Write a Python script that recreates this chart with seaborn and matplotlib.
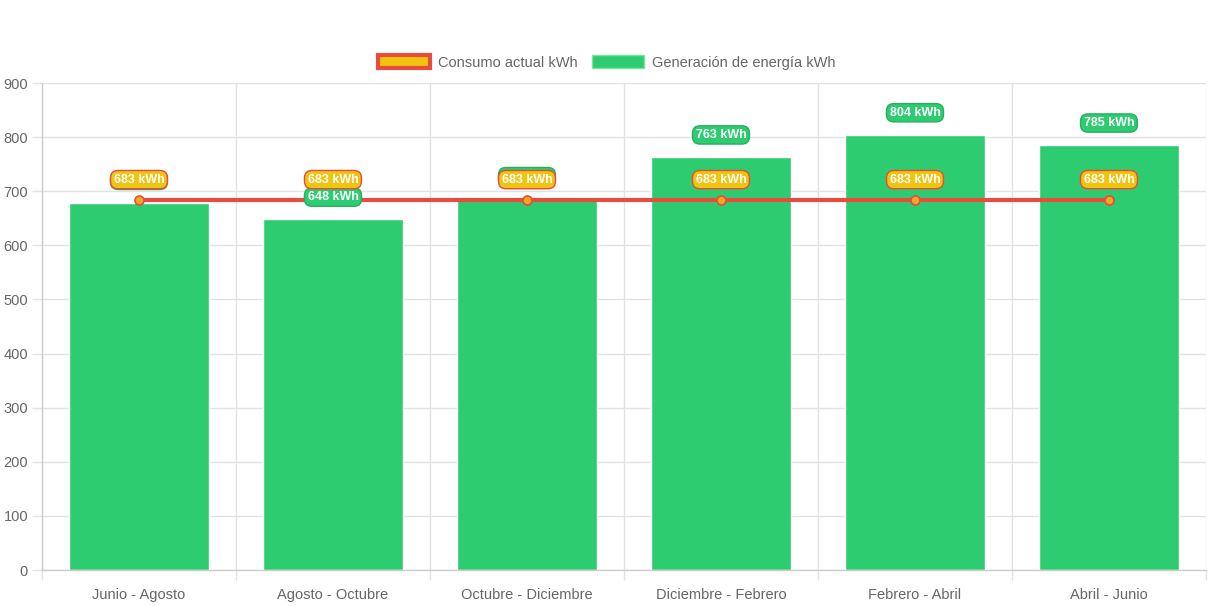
import numpy as np
import matplotlib
matplotlib.use("Agg")
import matplotlib.pyplot as plt
from matplotlib.patches import Patch
import seaborn as sns

# data
periodos = ["Junio - Agosto", "Agosto - Octubre", "Octubre - Diciembre",
            "Diciembre - Febrero", "Febrero - Abril", "Abril - Junio"]
generacion = [679, 648, 686, 763, 804, 785]
consumo = [683, 683, 683, 683, 683, 683]
y_ticks = [0, 100, 200, 300, 400, 500, 600, 700, 800, 900]

verde = "#2ecc71"
rojo = "#e74c3c"
amarillo = "#f1c40f"
gris_texto = "#666666"
gris_rejilla = "#e2e2e2"

sns.set_theme(style="white")
plt.rcParams["font.family"] = ["Liberation Sans", "DejaVu Sans"]

fig = plt.figure(figsize=(12.13, 6.06), dpi=100)
ax = fig.add_axes([0.0346, 0.0594, 0.9596, 0.8036])

sns.barplot(x=periodos, y=generacion, color=verde, saturation=1, width=0.72,
            ax=ax, zorder=2)
pos = np.arange(len(periodos))
sns.lineplot(x=pos, y=consumo, color=rojo, linewidth=3, marker="o",
             markersize=6.5, markerfacecolor="#f5a623", markeredgecolor=rojo,
             markeredgewidth=1.2, ax=ax, zorder=3)

ax.set_xlim(-0.5, len(periodos) - 0.5)
ax.set_ylim(0, 900)
ax.set_yticks(y_ticks)
ax.set_xticks(pos)
ax.set_xticklabels(periodos)
ax.set_xticks(np.arange(-0.5, len(periodos)), minor=True)

ax.grid(False)
ax.yaxis.grid(True, color=gris_rejilla, linewidth=1)
ax.xaxis.grid(True, which="minor", color=gris_rejilla, linewidth=1)
ax.set_axisbelow(True)
ax.tick_params(axis="x", which="major", length=0, pad=13,
               labelsize=10.5, labelcolor=gris_texto)
ax.tick_params(axis="x", which="minor", length=7, width=1,
               color=gris_rejilla, bottom=True)
ax.tick_params(axis="y", length=7, width=1, color=gris_rejilla,
               labelsize=10.5, labelcolor=gris_texto, pad=3, left=True)
for lado in ["top", "right"]:
    ax.spines[lado].set_visible(False)
for lado in ["left", "bottom"]:
    ax.spines[lado].set_color("#cccccc")
    ax.spines[lado].set_linewidth(1)

# value labels (the green one of the third bar sits behind the yellow one)
for i, v in enumerate(generacion):
    ax.annotate(f"{v} kWh", (i, v), xytext=(0, 16), textcoords="offset points",
                ha="center", va="center", fontsize=9, fontweight="bold",
                color="white", zorder=5,
                bbox=dict(boxstyle="round,pad=0.25,rounding_size=0.6",
                          fc=verde, ec="#27ae60", lw=1))
for i, v in enumerate(consumo):
    ax.annotate(f"{v} kWh", (i, v), xytext=(0, 15), textcoords="offset points",
                ha="center", va="center", fontsize=9, fontweight="bold",
                color="white", zorder=6,
                bbox=dict(boxstyle="round,pad=0.25,rounding_size=0.6",
                          fc=amarillo, ec=rojo, lw=1))

handles = [Patch(facecolor=amarillo, edgecolor=rojo, linewidth=3,
                 label="Consumo actual kWh"),
           Patch(facecolor=verde, edgecolor="#7ee2a8", linewidth=1,
                 label="Generación de energía kWh")]
fig.legend(handles=handles, loc="center", bbox_to_anchor=(0.5, 0.897),
           ncol=2, frameon=False, fontsize=10.5, labelcolor=gris_texto,
           handlelength=3.6, handleheight=1.0, handletextpad=0.5,
           columnspacing=1.0)

fig.savefig("out.png", dpi=100)
